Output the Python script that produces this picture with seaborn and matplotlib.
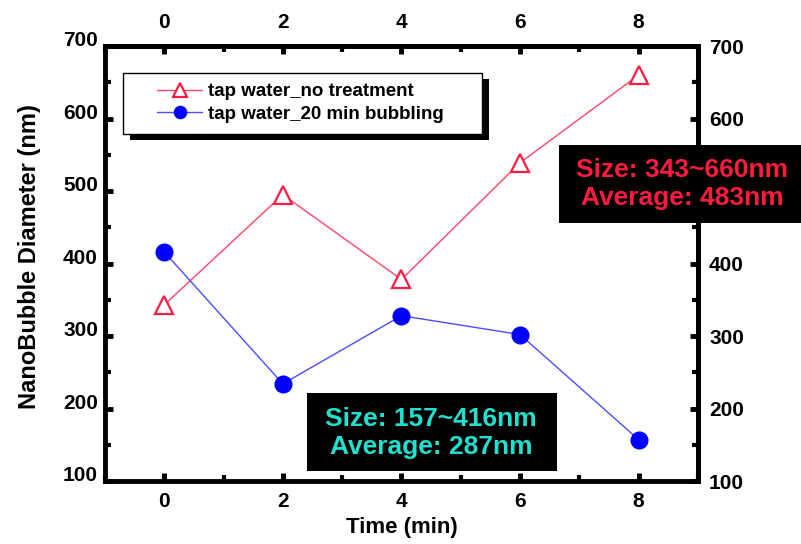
import matplotlib
matplotlib.use("Agg")
import matplotlib.pyplot as plt
import seaborn as sns
import pandas as pd
from matplotlib.patches import Rectangle
from matplotlib.ticker import AutoMinorLocator, FixedLocator

# Nanobubble diameter (nm) measured over time (min)
time_min = [0, 2, 4, 6, 8]
no_treatment = [343, 495, 378, 539, 660]
bubbling_20min = [416, 234, 328, 302, 157]
series_names = ["tap water_no treatment", "tap water_20 min bubbling"]
x_ticks = [0, 2, 4, 6, 8]
y_ticks = [100, 200, 300, 400, 500, 600, 700]
red_note = "Size: 343~660nm\nAverage: 483nm"
cyan_note = "Size: 157~416nm\nAverage: 287nm"

sns.set_style("ticks")
plt.rcParams["font.family"] = ["Liberation Sans", "DejaVu Sans"]
plt.rcParams["font.weight"] = "bold"
plt.rcParams["axes.labelweight"] = "bold"
plt.rcParams["text.color"] = "black"
plt.rcParams["axes.labelcolor"] = "black"
plt.rcParams["xtick.color"] = "black"
plt.rcParams["ytick.color"] = "black"

RED_LINE = "#ff4466"
RED_MARK = "#ff1a40"
BLUE_LINE = "#4c4cff"
BLUE_MARK = "#0000ff"

W, H = 801, 544
fig = plt.figure(figsize=(W / 100, H / 100), dpi=100)
ax = fig.add_axes([0.131, 0.1158, 0.7404, 0.7996])

df_a = pd.DataFrame({"Time": time_min, "Diameter": no_treatment})
df_b = pd.DataFrame({"Time": time_min, "Diameter": bubbling_20min})

sns.lineplot(data=df_a, x="Time", y="Diameter", ax=ax, color=RED_LINE, lw=1,
             marker="^", ms=13, mfc="white", mec=RED_MARK, mew=1.6,
             label=series_names[0], zorder=3)
sns.lineplot(data=df_b, x="Time", y="Diameter", ax=ax, color=BLUE_LINE, lw=1,
             marker="o", ms=13, mfc=BLUE_MARK, mec=BLUE_MARK, mew=0,
             label=series_names[1], zorder=3)

ax.set_xlim(-1, 9)
ax.set_ylim(100, 700)
ax.xaxis.set_major_locator(FixedLocator(x_ticks))
ax.yaxis.set_major_locator(FixedLocator(y_ticks))
ax.xaxis.set_minor_locator(AutoMinorLocator(2))
ax.yaxis.set_minor_locator(AutoMinorLocator(2))

for s in ax.spines.values():
    s.set_linewidth(3.5)
    s.set_color("black")

tick_kw = dict(direction="in", color="black", labelsize=15, labelcolor="black")
ax.tick_params(axis="x", which="major", length=6, width=3.5, pad=8, **tick_kw)
ax.tick_params(axis="y", which="major", length=6, width=3.5, pad=5, **tick_kw)
ax.tick_params(axis="both", which="minor", direction="in", length=4, width=3, color="black")

# top and right duplicate axes
top = ax.secondary_xaxis("top")
top.xaxis.set_major_locator(FixedLocator(x_ticks))
top.xaxis.set_minor_locator(AutoMinorLocator(2))
top.tick_params(axis="x", which="major", length=6, width=3.5, pad=10, **tick_kw)
top.tick_params(axis="x", which="minor", direction="in", length=4, width=3, color="black")
top.spines["top"].set_linewidth(3.5)

right = ax.secondary_yaxis("right")
right.yaxis.set_major_locator(FixedLocator(y_ticks))
right.yaxis.set_minor_locator(AutoMinorLocator(2))
right.tick_params(axis="y", which="major", length=6, width=3.5, pad=8, **tick_kw)
right.tick_params(axis="y", which="minor", direction="in", length=4, width=3, color="black")
right.spines["right"].set_linewidth(3.5)

# left tick labels sit slightly above their ticks
for t in ax.yaxis.get_major_ticks():
    t.label1.set_verticalalignment("baseline")

ax.set_xlabel("Time (min)", fontsize=16, fontweight="bold")
ax.set_ylabel("NanoBubble Diameter (nm)", fontsize=17, fontweight="bold")
ax.xaxis.label.set_verticalalignment("center")
ax.xaxis.set_label_coords(0.5, -0.108)
ax.yaxis.label.set_verticalalignment("center")
ax.yaxis.set_label_coords(-0.128, 0.517)

# legend: plain entries inside a boxed panel with a drop shadow
handles, labels = ax.get_legend_handles_labels()
leg = ax.legend(handles, labels, loc="upper left",
                bbox_to_anchor=(157 / W, 1 - 83 / H), bbox_transform=fig.transFigure,
                borderaxespad=0, borderpad=0, fontsize=13.5, frameon=False,
                handlelength=2.4, handletextpad=0.32, labelspacing=0.3,
                markerscale=0.75)
leg.set_zorder(6)

box_x0, box_y0, box_w, box_h = 123 / W, 1 - 134 / H, 359 / W, 61 / H
ax.add_patch(Rectangle((box_x0 + 7 / W, box_y0 - 6 / H), box_w, box_h,
                       transform=fig.transFigure, facecolor="black",
                       edgecolor="none", zorder=5.5, clip_on=False))
ax.add_patch(Rectangle((box_x0, box_y0), box_w, box_h,
                       transform=fig.transFigure, facecolor="white",
                       edgecolor="black", lw=1.0, zorder=5.6, clip_on=False))

# summary boxes
fig.patches.append(Rectangle((559 / W, 1 - 223 / H), 242 / W, 78 / H,
                             transform=fig.transFigure, facecolor="black",
                             edgecolor="none", zorder=2))
fig.text(682 / W, 1 - 184 / H, red_note, color=RED_MARK, fontsize=19,
         fontweight="bold", ha="center", va="center", multialignment="center",
         linespacing=1.2, zorder=3)

fig.patches.append(Rectangle((307 / W, 1 - 471 / H), 250 / W, 78 / H,
                             transform=fig.transFigure, facecolor="black",
                             edgecolor="none", zorder=2))
fig.text(431 / W, 1 - 433 / H, cyan_note, color="#22e0d0", fontsize=19,
         fontweight="bold", ha="center", va="center", multialignment="center",
         linespacing=1.2, zorder=3)

fig.savefig("out.png", dpi=100)
